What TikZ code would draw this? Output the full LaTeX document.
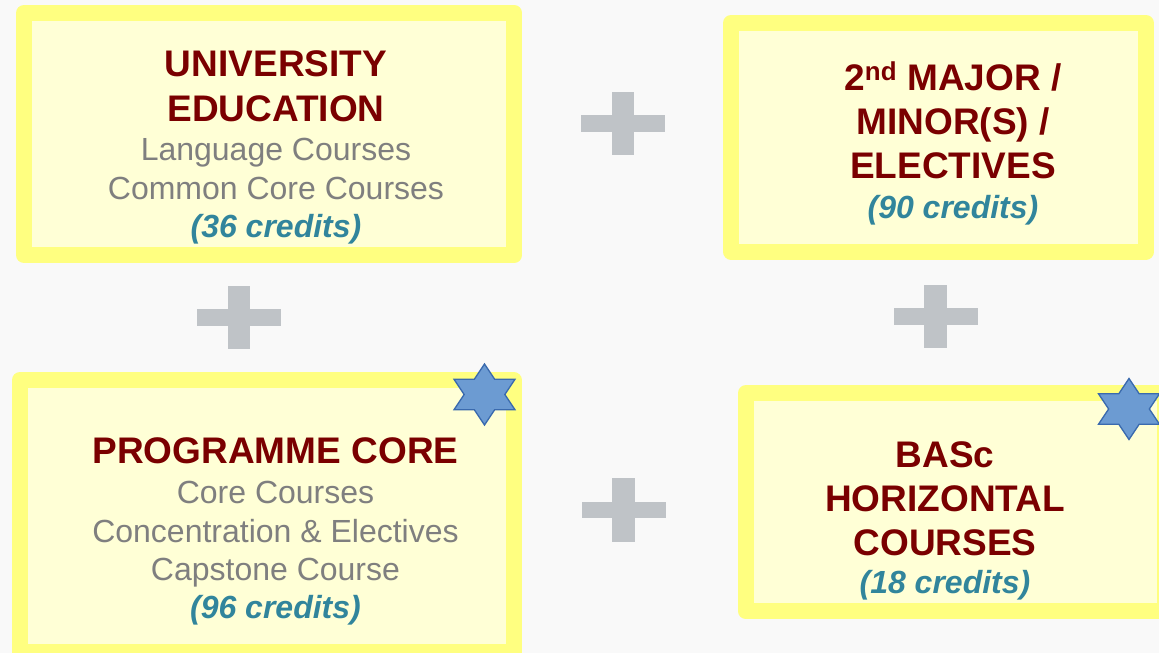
\documentclass[tikz,border=0pt]{standalone}
\usepackage{fontspec}
\setmainfont{Liberation Sans}
\definecolor{bg}{HTML}{F9F9F9}
\definecolor{ybord}{HTML}{FFFF80}
\definecolor{yfill}{HTML}{FFFFD6}
\definecolor{titlered}{HTML}{7A0000}
\definecolor{txtgray}{HTML}{7F7F7F}
\definecolor{credteal}{HTML}{31859C}
\definecolor{plusgray}{HTML}{BFC3C7}
\definecolor{starfill}{HTML}{6C9BD2}
\definecolor{starline}{HTML}{3A6AAE}
\newcommand{\ttl}[1]{{\fontsize{37}{39}\selectfont\bfseries\color{titlered}#1}}
\newcommand{\cred}[1]{{\bfseries\itshape\color{credteal}#1}}
\tikzset{
  box/.style={rectangle, draw=ybord, fill=yfill, line width=16pt, line join=round, inner sep=0pt},
  boxtext/.style={anchor=base, align=center, inner sep=0pt, text=txtgray, font=\fontsize{32}{39}\selectfont},
  plussign/.pic={
    \fill[plusgray] (-42,-8.3) rectangle (42,8.3);
    \fill[plusgray] (-11.1,-31.7) rectangle (11.1,31.7);
  },
  hexstar/.pic={
    \draw[fill=starfill, draw=starline, line width=1.3pt, line join=miter, xscale=1.155]
      (90:30.5) -- (60:17.6) -- (30:30.5) -- (0:17.6) -- (-30:30.5) -- (-60:17.6)
      -- (-90:30.5) -- (-120:17.6) -- (-150:30.5) -- (180:17.6) -- (150:30.5) -- (120:17.6) -- cycle;
  }
}
\begin{document}
\begin{tikzpicture}[x=1pt, y=-1pt]
\useasboundingbox (0,0) rectangle (1159,653);
\clip (0,0) rectangle (1159,653);
\fill[bg] (0,0) rectangle (1159,653);

% boxes
\node[box, minimum width=490.4pt, minimum height=242pt] (b1) at (269.2,134) {};
\node[box, minimum width=415pt, minimum height=228.5pt] (b2) at (938.5,137.3) {};
\node[box, minimum width=493.5pt, minimum height=272pt] (b3) at (266.75,516) {};
\node[box, minimum width=419pt, minimum height=218.3pt] (b4) at (955.5,502.2) {};

% texts (base anchor = baseline of last line)
\node[boxtext] (t1) at (276,237) {\ttl{UNIVERSITY}\\[6pt]\ttl{EDUCATION}\\Language Courses\\Common Core Courses\\[-1pt]\cred{(36 credits)}};
\node[boxtext] (t2) at (953,218) {\ttl{2\textsuperscript{nd} MAJOR /}\\[5pt]\ttl{MINOR(S) /}\\[5pt]\ttl{ELECTIVES}\\[1pt]\cred{(90 credits)}};
\node[boxtext] (t3) at (275.5,618) {\ttl{PROGRAMME CORE}\\[1pt]Core Courses\\Concentration \& Electives\\[-1pt]Capstone Course\\[-1pt]\cred{(96 credits)}};
\node[boxtext] (t4) at (945,593) {\ttl{BASc}\\[5pt]\ttl{HORIZONTAL}\\[5pt]\ttl{COURSES}\\[-1pt]\cred{(18 credits)}};

% plus signs
\pic at (623.3,123.4) {plussign};
\pic at (238.7,317.3) {plussign};
\pic at (935.5,316.5) {plussign};
\pic at (623.5,510) {plussign};

% stars
\pic at (484.5,394.5) {hexstar};
\pic at (1129,409) {hexstar};
\end{tikzpicture}
\end{document}
